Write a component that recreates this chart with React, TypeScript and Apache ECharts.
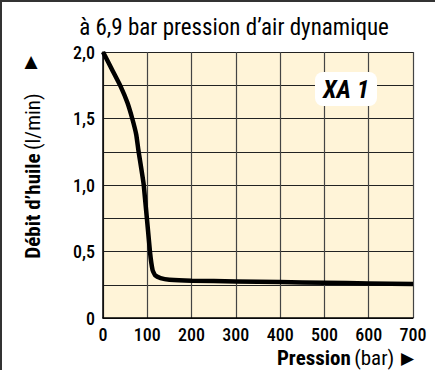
import React, { useEffect, useRef } from "react";
import * as echarts from "echarts";

const pressure = [0, 20, 40, 55, 66, 75, 80, 92, 106, 112, 118, 130, 150, 200, 300, 400, 500, 600, 700];
const oilFlow = [2.0, 1.87, 1.74, 1.62, 1.5, 1.38, 1.26, 1.0, 0.5, 0.36, 0.32, 0.3, 0.288, 0.28, 0.275, 0.27, 0.265, 0.26, 0.255];
const title = "à 6,9 bar pression d’air dynamique";
const seriesLabel = "XA 1";

const FONT = '"Roboto Condensed", "Liberation Sans Narrow", Roboto, sans-serif';

export default function App() {
  const ref = useRef<HTMLDivElement>(null);
  useEffect(() => {
    const chart = echarts.init(ref.current!, null, { renderer: "svg" });
    const data = pressure.map((p, i) => [p, oilFlow[i]]);
    chart.setOption({
      animation: false,
      backgroundColor: "#ffffff",
      grid: { left: 103, right: 22, top: 52, bottom: 52, show: true, backgroundColor: "#fff4d8", borderWidth: 0 },
      xAxis: {
        type: "value",
        min: 0,
        max: 700,
        interval: 100,
        axisLine: { show: true, lineStyle: { color: "#000", width: 1.5 } },
        axisTick: { show: false },
        splitLine: { show: true, lineStyle: { color: "#444", width: 1.2 } },
        axisLabel: { color: "#000", fontFamily: FONT, fontSize: 18, fontWeight: 500, margin: 7 },
      },
      yAxis: {
        type: "value",
        min: 0,
        max: 2,
        interval: 0.25,
        axisLine: { show: true, lineStyle: { color: "#000", width: 1.5 } },
        axisTick: { show: false },
        splitLine: { show: true, lineStyle: { color: "#222", width: 1.2 } },
        axisLabel: {
          color: "#000",
          fontFamily: FONT,
          fontSize: 18,
          fontWeight: 500,
          margin: 8,
          formatter: (v: number) => {
            if (Math.abs(v * 2 - Math.round(v * 2)) > 1e-6) return "";
            if (v === 0) return "0";
            return v.toFixed(1).replace(".", ",");
          },
        },
      },
      series: [
        {
          type: "line",
          data,
          smooth: 0.15,
          showSymbol: false,
          lineStyle: { color: "#000", width: 4.5 },
          z: 5,
        },
      ],
      graphic: [
        { type: "line", shape: { x1: 1, y1: 0, x2: 1, y2: 370 }, style: { stroke: "#333", lineWidth: 2 } },
        { type: "line", shape: { x1: 0, y1: 1, x2: 435, y2: 1 }, style: { stroke: "#333", lineWidth: 2 } },
        {
          type: "text",
          x: 234,
          y: 27,
          style: { text: title, fontFamily: FONT, fontSize: 23, fill: "#000", align: "center", verticalAlign: "middle" },
        },
        {
          type: "rect",
          shape: { x: 315, y: 72, width: 62, height: 34, r: 8 },
          style: { fill: "#fff" },
          z: 10,
        },
        {
          type: "text",
          x: 346,
          y: 89,
          style: {
            text: seriesLabel,
            fontFamily: FONT,
            fontSize: 25,
            fontWeight: "bold",
            fontStyle: "italic",
            fill: "#000",
            align: "center",
            verticalAlign: "middle",
          },
          z: 11,
        },
        {
          type: "text",
          x: 33,
          y: 176,
          rotation: Math.PI / 2,
          style: {
            text: "{b|Débit d’huile} {r|(l/min)}",
            align: "center",
            verticalAlign: "middle",
            rich: {
              b: { fontFamily: FONT, fontSize: 21, fontWeight: "bold", fill: "#000" },
              r: { fontFamily: FONT, fontSize: 21, fill: "#000" },
            },
          },
        },
        {
          type: "text",
          x: 31,
          y: 61,
          style: { text: "▲", fontSize: 17, fill: "#000", align: "center", verticalAlign: "middle", fontFamily: '"DejaVu Sans", sans-serif' },
        },
        {
          type: "text",
          x: 414,
          y: 358,
          style: {
            text: "{b|Pression} {r|(bar)}  {t|▶}",
            align: "right",
            verticalAlign: "middle",
            rich: {
              b: { fontFamily: FONT, fontSize: 21, fontWeight: "bold", fill: "#000" },
              r: { fontFamily: FONT, fontSize: 21, fill: "#000" },
              t: { fontFamily: '"DejaVu Sans", sans-serif', fontSize: 17, fill: "#000" },
            },
          },
        },
      ],
    });
    return () => chart.dispose();
  }, []);
  return <div ref={ref} style={{ position: "fixed", left: 0, top: 0, width: 435, height: 370 }} />;
}
